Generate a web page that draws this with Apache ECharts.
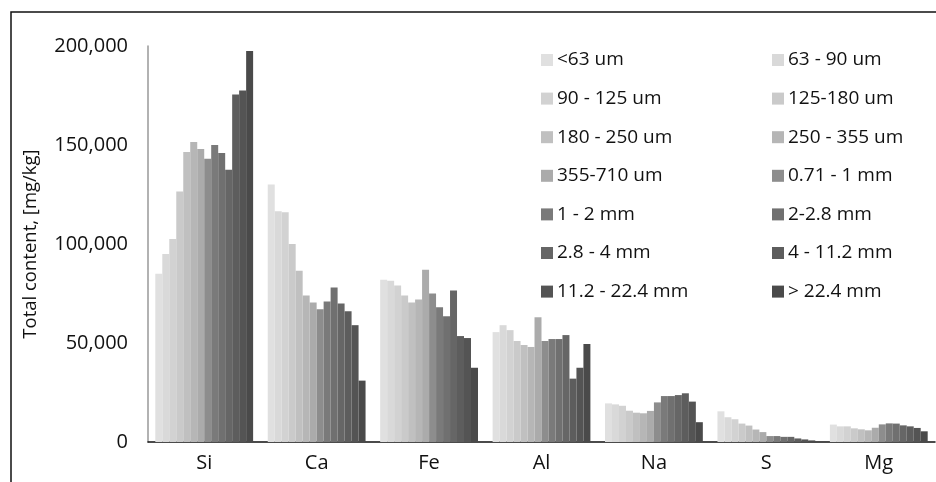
<!DOCTYPE html>
<html>
<head>
<meta charset="utf-8">
<script src="https://cdn.jsdelivr.net/npm/echarts@6/dist/echarts.min.js"></script>
<style>
  html, body { margin: 0; padding: 0; background: #fff; }
  #chart { width: 936px; height: 482px; }
</style>
</head>
<body>
<div id="chart"></div>
<script>
// Elements on the x axis
const elements = ['Si', 'Ca', 'Fe', 'Al', 'Na', 'S', 'Mg'];

// Particle size fractions (one bar per fraction in each element group)
const fractions = [
  '<63 um', '63 - 90 um', '90 - 125 um', '125-180 um', '180 - 250 um', '250 - 355 um',
  '355-710 um', '0.71 - 1 mm', '1 - 2 mm', '2-2.8 mm', '2.8 - 4 mm', '4 - 11.2 mm',
  '11.2 - 22.4 mm', '> 22.4 mm'
];

// Total content per element [mg/kg], ordered by fraction
const si = [85000, 95000, 102500, 126500, 146500, 151500, 148000, 143000, 150000, 146000, 137500, 175500, 177500, 197500];
const ca = [130000, 116500, 116000, 100000, 86500, 74000, 70500, 67000, 71000, 78000, 70000, 66000, 59000, 31000];
const fe = [82000, 81500, 79000, 74000, 70500, 72000, 87000, 75000, 68000, 63500, 76500, 53500, 52500, 37500];
const al = [55500, 59000, 56500, 51000, 49000, 48000, 63000, 51000, 52000, 52000, 54000, 32000, 37500, 49500];
const na = [19500, 19000, 18300, 15800, 14800, 14500, 15700, 20000, 23200, 23200, 23700, 24600, 20400, 10000];
const s  = [15500, 12500, 11500, 9300, 8300, 6300, 5000, 3000, 3000, 2600, 2600, 1800, 1300, 800];
const mg = [8800, 7900, 7900, 6900, 6400, 5900, 7200, 8900, 9400, 9300, 8400, 7900, 7100, 5400];

// Y axis ticks
const yMin = 0;
const yMax = 200000;
const yStep = 50000;

// Grey ramp, light (fine) to dark (coarse)
const greys = ['#e0e0e0', '#d9d9d9', '#d2d2d2', '#cacaca', '#c0c0c0', '#b6b6b6', '#ababab',
               '#8d8d8d', '#7a7a7a', '#707070', '#666666', '#5d5d5d', '#545454', '#4a4a4a'];

const byElement = [si, ca, fe, al, na, s, mg];
const FONT = 'Open Sans';
const INK = '#111';

const series = fractions.map((name, i) => ({
  name: name,
  type: 'bar',
  data: byElement.map(arr => arr[i]),
  itemStyle: { color: greys[i] },
  barGap: '0%',
  barCategoryGap: '13%',
  emphasis: { disabled: true }
}));

const legendBase = {
  orient: 'vertical',
  icon: 'rect',
  itemWidth: 12,
  itemHeight: 12,
  itemGap: 18.6,
  top: 45,
  selectedMode: false,
  textStyle: { fontFamily: FONT, fontSize: 19, color: INK, lineHeight: 20, padding: [0, 0, 0, -1] }
};

const chart = echarts.init(document.getElementById('chart'), null, { renderer: 'canvas' });
chart.setOption({
  animation: false,
  backgroundColor: '#fff',
  color: greys,
  grid: { left: 148, right: 1, top: 46, bottom: 40, containLabel: false },
  legend: [
    Object.assign({}, legendBase, { left: 536, data: fractions.filter((_, i) => i % 2 === 0) }),
    Object.assign({}, legendBase, { left: 767, data: fractions.filter((_, i) => i % 2 === 1) })
  ],
  xAxis: {
    type: 'category',
    data: elements,
    axisLine: { lineStyle: { color: '#111', width: 1.5 } },
    axisTick: { show: false },
    axisLabel: { fontFamily: FONT, fontSize: 20, color: INK, margin: 11 }
  },
  yAxis: {
    type: 'value',
    min: yMin,
    max: yMax,
    interval: yStep,
    name: 'Total content, [mg/kg]',
    nameLocation: 'middle',
    nameGap: 108,
    nameTextStyle: { fontFamily: FONT, fontSize: 18.5, color: INK },
    axisLine: { show: true, lineStyle: { color: '#999', width: 1.5 } },
    axisTick: { show: false },
    splitLine: { show: false },
    axisLabel: {
      fontFamily: FONT, fontSize: 20, color: INK, margin: 20,
      formatter: v => v.toLocaleString('en-US')
    }
  },
  graphic: [{
    type: 'rect',
    shape: { x: 11, y: 12, width: 960, height: 500 },
    style: { fill: 'none', stroke: '#111', lineWidth: 1.5 },
    silent: true
  }],
  series: series
});
</script>
</body>
</html>
